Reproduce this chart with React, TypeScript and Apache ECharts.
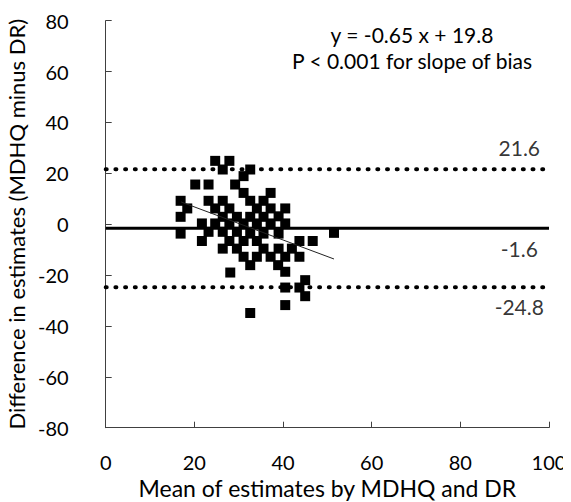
import React, { useEffect, useRef } from "react";
import * as echarts from "echarts";

const xTicks = [0, 20, 40, 60, 80, 100];
const yTicks = [-80, -60, -40, -20, 0, 20, 40, 60, 80];

const meanX = [24.7, 27.9, 26.4, 32.6, 31.1, 20.2, 23.2, 29.2, 31.1, 37.2, 16.9, 23.2, 26.4, 32.6, 35.6, 18.4, 24.7, 27.9, 34.1, 37.2, 40.5, 16.9, 26.4, 29.6, 32.6, 35.6, 39.0, 21.7, 24.7, 27.9, 31.1, 34.1, 37.2, 40.5, 16.9, 23.2, 26.4, 29.6, 32.6, 35.6, 39.0, 51.5, 21.7, 27.9, 31.1, 34.1, 43.7, 46.7, 26.4, 29.6, 35.6, 39.0, 42.0, 31.1, 34.1, 37.2, 40.5, 43.7, 32.6, 38.9, 28.1, 40.5, 45.0, 40.5, 43.7, 45.0, 40.5, 32.6];
const diffY = [24.9, 24.9, 21.5, 21.5, 18.9, 15.6, 15.6, 15.6, 12.3, 12.3, 9.2, 9.2, 9.2, 9.2, 9.2, 6.2, 6.2, 6.2, 6.2, 6.2, 6.2, 2.9, 2.9, 2.9, 2.9, 2.9, 3.1, 0.3, 0.3, 0.3, 0.3, 0.3, 0.3, 0.3, -3.7, -3.0, -3.0, -3.0, -3.7, -3.7, -3.7, -3.4, -6.6, -6.6, -6.6, -6.6, -6.6, -6.6, -9.6, -9.6, -9.6, -9.6, -9.6, -12.8, -12.8, -12.8, -12.8, -12.8, -16.1, -16.1, -19.0, -18.7, -22.0, -24.9, -24.9, -28.3, -31.8, -34.9];

const meanDiff = -1.6;
const upperLoA = 21.6;
const lowerLoA = -24.8;
const slope = -0.65;
const intercept = 19.8;
const regXRange = [17, 51.5];

const FONT = "Lato";

export default function App() {
  const ref = useRef<HTMLDivElement>(null);
  useEffect(() => {
    if (!ref.current) return;
    const chart = echarts.init(ref.current, undefined, { renderer: "svg" });
    const pts = meanX.map((x, i) => [x, diffY[i]]);
    const dotted = { type: [1, 8.7], width: 4, cap: "round", color: "#000" };
    const lineLabel = (val: number, off: number) => ({
      type: "scatter",
      symbolSize: 0,
      silent: true,
      data: [[93.3, val]],
      label: {
        show: true,
        formatter: String(val),
        position: "inside",
        offset: [0, off],
        color: "#000",
        fontSize: 21,
        fontFamily: FONT,
      },
      z: 5,
    });
    chart.setOption({
      animation: false,
      textStyle: { fontFamily: FONT },
      grid: {
        left: 97.7,
        right: 22,
        top: 12.7,
        bottom: 74.3,
        containLabel: false,
        outerBoundsMode: "none",
      },
      xAxis: {
        type: "value",
        min: xTicks[0],
        max: xTicks[xTicks.length - 1],
        interval: 20,
        name: "Mean of estimates by MDHQ and DR",
        nameLocation: "middle",
        nameGap: 46,
        nameTextStyle: { fontSize: 23, color: "#000", fontFamily: FONT },
        axisLine: { onZero: false, lineStyle: { color: "#404040", width: 1 } },
        axisTick: { inside: true, length: 6, lineStyle: { color: "#404040" } },
        axisLabel: { fontSize: 20, color: "#000", margin: 24, fontFamily: FONT },
        splitLine: { show: false },
      },
      yAxis: {
        type: "value",
        min: yTicks[0],
        max: yTicks[yTicks.length - 1],
        interval: 20,
        name: "Difference in estimates (MDHQ minus DR)",
        nameLocation: "middle",
        nameGap: 71,
        nameTextStyle: { fontSize: 22, color: "#000", fontFamily: FONT },
        axisLine: { show: true, onZero: false, lineStyle: { color: "#404040", width: 1 } },
        axisTick: { show: true, inside: true, length: 6, lineStyle: { color: "#404040" } },
        axisLabel: { fontSize: 20, color: "#000", margin: 37, fontFamily: FONT },
        splitLine: { show: false },
      },
      series: [
        {
          type: "scatter",
          symbol: "rect",
          symbolSize: 10,
          itemStyle: { color: "#000", opacity: 1 },
          data: pts,
          z: 2,
        },
        {
          type: "line",
          symbol: "none",
          data: [[xTicks[0], upperLoA], [xTicks[xTicks.length - 1], upperLoA]],
          lineStyle: dotted,
          z: 3,
        },
        {
          type: "line",
          symbol: "none",
          data: [[xTicks[0], lowerLoA], [xTicks[xTicks.length - 1], lowerLoA]],
          lineStyle: dotted,
          z: 3,
        },
        {
          type: "line",
          symbol: "none",
          data: [[xTicks[0], meanDiff], [xTicks[xTicks.length - 1], meanDiff]],
          lineStyle: { color: "#000", width: 3 },
          z: 3,
        },
        {
          type: "line",
          symbol: "none",
          data: regXRange.map((x) => [x, slope * x + intercept]),
          lineStyle: { color: "#222", width: 1 },
          z: 4,
        },
        lineLabel(upperLoA, -22),
        lineLabel(meanDiff, 20),
        lineLabel(lowerLoA, 19),
      ],
      graphic: [
        {
          type: "text",
          x: 404,
          y: 26,
          style: {
            text: "y = -0.65 x + 19.8",
            fontSize: 21,
            fontFamily: FONT,
            fill: "#000",
            align: "center",
            verticalAlign: "middle",
          },
        },
        {
          type: "text",
          x: 404,
          y: 52,
          style: {
            text: "P < 0.001 for slope of bias",
            fontSize: 21,
            fontFamily: FONT,
            fill: "#000",
            align: "center",
            verticalAlign: "middle",
          },
        },
      ],
    });
    return () => chart.dispose();
  }, []);
  return <div ref={ref} style={{ width: 563, height: 494 }} />;
}
